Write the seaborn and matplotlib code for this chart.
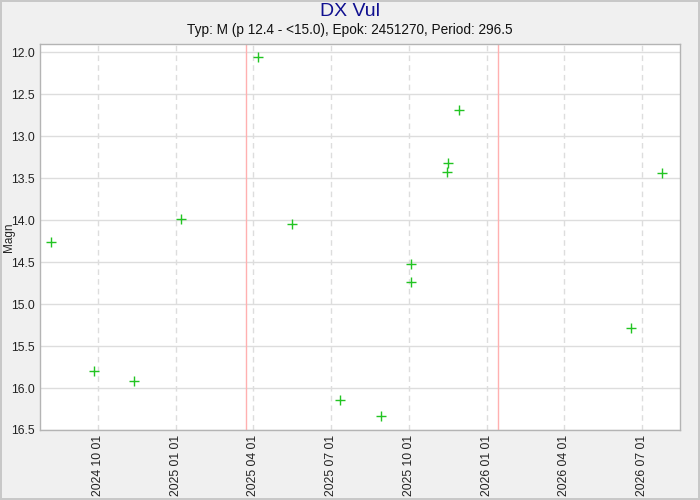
"""
Light curve plot for DX Vul with predicted maxima.
"""

import numpy as np
import pandas as pd
import matplotlib
matplotlib.use('Agg')
import matplotlib.pyplot as plt
import matplotlib.dates as mdates
import seaborn as sns

# Star info
star_name = 'DX Vul'
var_type = 'M (p 12.4 - <15.0)'
epoch_jd = 2451270
period = 296.5

obs_dates = [
    '2024-08-07', '2024-09-26', '2024-11-12', '2025-01-07', '2025-04-07',
    '2025-05-17', '2025-07-12', '2025-08-29', '2025-10-03', '2025-10-03',
    '2025-11-15', '2025-11-16', '2025-11-29', '2026-06-18', '2026-07-25',
]
obs_mags = [
    14.26, 15.80, 15.92, 13.99, 12.06,
    14.05, 16.14, 16.33, 14.52, 14.74,
    13.42, 13.32, 12.69, 15.29, 13.44,
]

# Cycles of predicted maxima inside the window
max_cycles = [32, 33]

x_start, x_end = '2024-07-25', '2026-08-15'
y_top, y_bottom = 11.9, 16.5


def jd_to_datetime(jd):
    return pd.to_datetime(jd - 2440587.5, unit='D', origin='unix')


def main():
    sns.set_style('white')
    plt.rcParams['font.family'] = ['Liberation Sans', 'DejaVu Sans']

    df = pd.DataFrame({'date': pd.to_datetime(obs_dates), 'mag': obs_mags})

    fig = plt.figure(figsize=(7, 5), dpi=100, facecolor='#f0f0f0',
                     edgecolor='#c8c8c8', linewidth=1.5)
    ax = fig.add_axes([40 / 700, 70 / 500, 640 / 700, 386 / 500])
    ax.set_facecolor('white')

    # Predicted maxima
    for n in max_cycles:
        ax.axvline(jd_to_datetime(epoch_jd + n * period), color='#ffb0b0',
                   lw=1, zorder=1)

    sns.scatterplot(data=df, x='date', y='mag', marker='+', color='#22c422',
                    s=50, linewidth=1.0, ax=ax, zorder=3)

    ax.set_xlim(pd.Timestamp(x_start), pd.Timestamp(x_end))
    ax.set_ylim(y_bottom, y_top)

    ax.xaxis.set_major_locator(mdates.MonthLocator(bymonth=[1, 4, 7, 10]))
    ax.xaxis.set_minor_locator(mdates.MonthLocator())
    ax.xaxis.set_major_formatter(mdates.DateFormatter('%Y %m %d'))
    ax.yaxis.set_major_locator(plt.MultipleLocator(0.5))
    ax.yaxis.set_major_formatter(plt.FormatStrFormatter('%.1f'))

    ax.tick_params(axis='both', which='major', direction='in', length=5,
                   width=1, labelsize=8.8, color='black', labelcolor='#222222')
    ax.tick_params(axis='x', which='minor', direction='in', length=3,
                   width=1, color='black')
    plt.setp(ax.get_xticklabels(), rotation=90)

    ax.grid(axis='y', color='#dddddd', lw=1, ls='-')
    ax.grid(axis='x', which='major', color='#dddddd', lw=1, ls=(0, (4, 3)))
    ax.set_axisbelow(True)

    for spine in ax.spines.values():
        spine.set_color('#b4b4b4')
        spine.set_linewidth(1)

    ax.set_xlabel('')
    ax.set_ylabel('Magn', fontsize=8.5)
    ax.yaxis.set_label_coords(-0.039, 0.5)

    fig.text(0.5, 0.976, star_name, ha='center', va='center',
             fontsize=14, color='#101090')
    fig.text(0.5, 0.94,
             f'Typ: {var_type}, Epok: {epoch_jd}, Period: {period}',
             ha='center', va='center', fontsize=9.8, color='#111111')

    fig.savefig('out.png', dpi=100, facecolor=fig.get_facecolor(),
                edgecolor=fig.get_edgecolor())
    plt.close(fig)


if __name__ == '__main__':
    main()
